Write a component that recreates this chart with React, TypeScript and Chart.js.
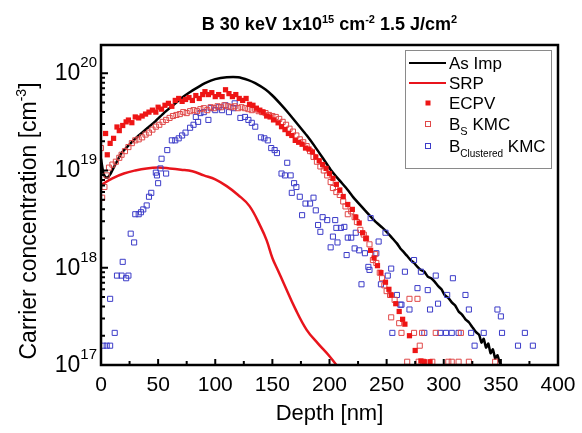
import React, { useEffect, useRef } from "react";
import { Chart, registerables } from "chart.js";

Chart.register(...registerables);

const FONT = '"Liberation Sans", Arial, Helvetica, sans-serif';

// ---------- tick labels ----------
const xTickValues = [0, 50, 100, 150, 200, 250, 300, 350, 400];
const xTickLabels = ["0", "50", "100", "150", "200", "250", "300", "350", "400"];
const yTickValues = [1e17, 1e18, 1e19, 1e20];
const yTickBase = "10";
const yTickExp = ["17", "18", "19", "20"];

// ---------- As implanted (black line) ----------
const asImpDepth = [0, 2, 4, 6, 8, 12, 18, 25, 33, 40, 48, 55, 62, 70, 77, 85, 91, 100, 110, 120, 129, 135, 144, 150, 158, 164, 173, 180, 187, 194, 201, 208, 216, 222, 231, 240, 246, 250, 253, 256, 259, 262, 265, 268, 271, 274, 277, 280, 283, 286, 289, 292, 295, 298, 301, 304, 307, 310, 313, 316, 319, 322, 325, 328, 331, 333, 335, 337, 339, 341, 343, 345, 347, 349, 352];
const asImpConc = [1.32e19, 9.5e18, 8.5e18, 8.5e18, 9.1e18, 1.12e19, 1.51e19, 1.86e19, 2.29e19, 2.69e19, 3.24e19, 3.89e19, 4.57e19, 5.5e19, 6.3e19, 7.2e19, 7.9e19, 8.7e19, 9.1e19, 9.1e19, 8.5e19, 7.9e19, 6.8e19, 5.9e19, 4.7e19, 3.9e19, 2.9e19, 2.3e19, 1.78e19, 1.35e19, 1.02e19, 8.1e18, 6.3e18, 5.1e18, 3.9e18, 3.0e18, 2.6e18, 2.34e18, 2.14e18, 1.95e18, 1.78e18, 1.58e18, 1.45e18, 1.32e18, 1.2e18, 1.12e18, 1.02e18, 9.5e17, 9.1e17, 8.1e17, 7.8e17, 7.2e17, 6.5e17, 6.0e17, 5.2e17, 4.9e17, 4.4e17, 4.1e17, 3.55e17, 3.3e17, 2.95e17, 2.75e17, 2.45e17, 2.19e17, 2.04e17, 1.7e17, 1.86e17, 1.51e17, 1.66e17, 1.32e17, 1.45e17, 1.17e17, 1.26e17, 1.05e17, 9.3e16];

// ---------- SRP (red line) ----------
const srpDepth = [0, 10, 20, 30, 40, 50, 60, 70, 80, 90, 100, 110, 120, 130, 140, 145, 150, 155, 160, 170, 180, 190, 200, 210];
const srpConc = [7.1e18, 8.3e18, 9.3e18, 1.0e19, 1.05e19, 1.07e19, 1.05e19, 1.02e19, 9.8e18, 8.9e18, 8.1e18, 6.9e18, 5.6e18, 4.3e18, 2.6e18, 1.91e18, 1.26e18, 9.3e17, 6.9e17, 3.8e17, 2.3e17, 1.66e17, 1.23e17, 8.7e16];

// ---------- ECPV (filled red squares) ----------
const ecpvDepth = [4, 5.5, 8, 11, 14, 16, 19, 22, 24, 27, 30, 33, 36, 39, 42, 45, 48, 50, 53, 56, 59, 62, 65, 68, 71, 74, 77, 80, 83, 86, 89, 91, 94, 97, 100, 103, 106, 109, 112, 115, 118, 121, 124, 127, 130, 133, 136, 139, 142, 145, 148, 151, 155, 158, 161, 164, 167, 170, 173, 176, 179, 182, 185, 188, 191, 194, 197, 200, 203, 206, 209, 212, 216, 220, 223, 226, 229, 232, 236, 239, 242, 245, 249, 252, 254, 258, 261, 264, 266, 270, 275, 280, 283, 288];
const ecpvConc = [2.4e19, 1.45e19, 1.9e19, 2.14e19, 2.8e19, 2.57e19, 2.9e19, 3.16e19, 3.3e19, 3.1e19, 3.55e19, 3.47e19, 3.63e19, 3.8e19, 3.98e19, 4.17e19, 3.98e19, 4.47e19, 4.27e19, 4.68e19, 4.9e19, 4.57e19, 5.25e19, 5.5e19, 5.13e19, 5.37e19, 5.62e19, 5.25e19, 5.89e19, 5.5e19, 6.03e19, 6.46e19, 6.03e19, 6.31e19, 5.75e19, 6.03e19, 5.75e19, 6.76e19, 6.17e19, 5.75e19, 6.03e19, 5.5e19, 5.25e19, 5.5e19, 4.79e19, 4.68e19, 4.37e19, 4.17e19, 3.98e19, 3.63e19, 3.55e19, 3.31e19, 3.09e19, 2.82e19, 2.63e19, 2.4e19, 2.29e19, 2.04e19, 1.95e19, 1.86e19, 1.7e19, 1.66e19, 1.55e19, 1.38e19, 1.26e19, 1.15e19, 1.05e19, 9.3e18, 8.3e18, 7.2e18, 6.3e18, 5.4e18, 4.47e18, 3.98e18, 3.31e18, 2.88e18, 2.29e18, 2.0e18, 1.51e18, 1.26e18, 1.05e18, 8.9e17, 7.1e17, 6.0e17, 5.25e17, 4.27e17, 3.55e17, 2.95e17, 2.63e17, 2.0e17, 1.41e17, 1.1e17, 1.08e17, 1.08e17];

// ---------- B_S KMC (open red squares) ----------
const bsDepth = [0, 1, 3, 5, 7, 10, 13, 16, 18, 21, 24, 27, 30, 33, 36, 39, 42, 45, 48, 51, 54, 57, 60, 63, 66, 69, 72, 75, 78, 81, 84, 87, 90, 93, 96, 99, 102, 105, 108, 111, 114, 117, 120, 123, 126, 129, 132, 135, 138, 141, 144, 147, 150, 153, 156, 159, 162, 165, 168, 171, 174, 177, 180, 183, 186, 189, 192, 195, 198, 201, 203, 206, 209, 212, 214, 216, 219, 222, 224, 227, 230, 232, 235, 238, 240, 241, 244, 246, 248, 250, 253, 254, 257, 261, 263, 268, 270, 274, 277, 278, 279, 281, 282, 290, 293, 304, 307, 313, 315, 322, 345];
const bsConc = [1.7e19, 5.25e18, 6.76e18, 8.9e18, 1.07e19, 1.15e19, 1.23e19, 1.35e19, 1.45e19, 1.58e19, 1.74e19, 1.91e19, 2.04e19, 2.09e19, 2.19e19, 2.34e19, 2.45e19, 2.63e19, 2.82e19, 2.95e19, 3.16e19, 3.31e19, 3.47e19, 3.63e19, 3.72e19, 3.8e19, 3.98e19, 3.89e19, 4.07e19, 4.17e19, 4.07e19, 4.27e19, 4.37e19, 4.17e19, 4.47e19, 4.37e19, 4.57e19, 4.47e19, 4.68e19, 4.57e19, 4.47e19, 4.57e19, 4.37e19, 4.47e19, 4.37e19, 4.27e19, 4.17e19, 4.27e19, 4.07e19, 3.98e19, 3.89e19, 3.72e19, 3.63e19, 3.55e19, 3.39e19, 3.16e19, 2.95e19, 2.69e19, 2.51e19, 2.29e19, 2.09e19, 1.95e19, 1.78e19, 1.58e19, 1.38e19, 1.23e19, 1.1e19, 1.0e19, 8.9e18, 7.6e18, 6.6e18, 6.0e18, 5.6e18, 4.8e18, 4.27e18, 3.55e18, 3.8e18, 3.31e18, 2.95e18, 2.45e18, 2.19e18, 2.0e18, 1.74e18, 1.2e18, 1.38e18, 1.12e18, 8.9e17, 7.8e17, 6.6e17, 5.75e17, 5.25e17, 3.09e17, 4.68e17, 2.69e17, 2.14e17, 1.08e17, 4.79e17, 2.14e17, 4.79e17, 1.08e17, 1.58e17, 2.14e17, 1.08e17, 1.08e17, 2.14e17, 1.08e17, 1.08e17, 1.08e17, 2.14e17, 1.08e17, 1.08e17];

// ---------- B_Clustered KMC (open blue squares) ----------
const bclDepth = [2, 5, 8, 8, 12, 14, 18, 19, 22, 24, 26, 29, 30, 33, 35, 37, 40, 42, 44, 48, 49, 50, 52, 53, 57, 58, 62, 65, 68, 71, 74, 78, 81, 83, 85, 87, 90, 94, 96, 100, 103, 106, 109, 112, 116, 117, 122, 126, 129, 132, 135, 140, 143, 146, 149, 152, 154, 158, 161, 163, 166, 167, 169, 171, 174, 176, 179, 183, 186, 188, 190, 192, 194, 198, 201, 203, 205, 206, 207, 210, 213, 215, 216, 219, 222, 223, 226, 228, 231, 234, 235, 236, 241, 243, 245, 249, 251, 254, 255, 259, 262, 263, 266, 270, 274, 277, 280, 283, 286, 288, 293, 295, 297, 302, 303, 307, 308, 313, 319, 322, 324, 327, 335, 347, 350, 351, 365, 371, 378];
const bclConc = [1.58e17, 1.58e17, 1.58e17, 4.79e17, 2.14e17, 8.3e17, 8.3e17, 1.15e18, 7.8e17, 8.3e17, 2.24e18, 1.82e18, 3.55e18, 3.55e18, 3.72e18, 3.98e18, 4.37e18, 5.37e18, 5.89e18, 9.5e18, 8.9e18, 7.4e18, 1.05e19, 1.32e19, 9.3e18, 1.62e19, 2.04e19, 2.04e19, 2.14e19, 2.29e19, 2.45e19, 2.75e19, 2.95e19, 3.55e19, 3.16e19, 3.89e19, 3.98e19, 3.31e19, 4.37e19, 4.17e19, 4.47e19, 4.17e19, 4.68e19, 3.98e19, 4.37e19, 4.9e19, 3.47e19, 3.55e19, 3.31e19, 3.09e19, 2.82e19, 2.19e19, 2.14e19, 2.04e19, 1.7e19, 1.62e19, 1.51e19, 9.3e18, 8.9e18, 1.2e19, 8.9e18, 5.89e18, 7.4e18, 6.76e18, 5.37e18, 3.47e18, 4.57e18, 4.57e18, 5.25e18, 3.89e18, 2.75e18, 2.34e18, 3.31e18, 3.09e18, 1.62e18, 2.09e18, 3.09e18, 2.57e18, 1.82e18, 2.57e18, 2.63e18, 1.35e18, 2.04e18, 2.04e18, 1.58e18, 2.29e18, 1.51e18, 6.76e17, 1.41e18, 1.02e18, 9.5e17, 3.24e18, 1.41e18, 1.86e18, 6.76e17, 2.29e18, 8.3e17, 9.8e17, 2.14e17, 5.25e17, 4.17e17, 4.17e17, 9.1e17, 3.72e17, 1.2e18, 6.17e17, 9.1e17, 2.14e17, 5.89e17, 3.72e17, 8.3e17, 4.27e17, 2.14e17, 2.14e17, 5.25e17, 2.14e17, 7.8e17, 2.14e17, 5.25e17, 3.72e17, 2.14e17, 1.58e17, 2.14e17, 3.72e17, 3.16e17, 2.14e17, 1.58e17, 2.14e17, 1.58e17];

const pairs = (xs: number[], ys: number[]) => xs.map((x, i) => ({ x, y: ys[i] }));

const BLACK = "#000000";
const SRP_RED = "#e8141c";
const ECPV_RED = "#ee1515";
const BS_RED = "#e04848";
const BLUE = "#3c3cc8";

type Seg = { t: string; size: number; dy?: number; bold?: boolean };

function fontOf(s: Seg) {
  return `${s.bold ? "bold " : ""}${s.size}px ${FONT}`;
}
function richWidth(ctx: CanvasRenderingContext2D, segs: Seg[]) {
  let w = 0;
  for (const s of segs) {
    ctx.font = fontOf(s);
    w += ctx.measureText(s.t).width;
  }
  return w;
}
function drawRich(ctx: CanvasRenderingContext2D, segs: Seg[], x: number, y: number, align: "left" | "center" | "right") {
  const w = richWidth(ctx, segs);
  let cx = align === "left" ? x : align === "center" ? x - w / 2 : x - w;
  ctx.textAlign = "left";
  ctx.textBaseline = "alphabetic";
  for (const s of segs) {
    ctx.font = fontOf(s);
    ctx.fillText(s.t, cx, y + (s.dy || 0));
    cx += ctx.measureText(s.t).width;
  }
}

const decorPlugin = {
  id: "decor",
  beforeDraw(chart: any) {
    const ctx = chart.ctx as CanvasRenderingContext2D;
    ctx.save();
    ctx.fillStyle = "#ffffff";
    ctx.fillRect(0, 0, chart.width, chart.height);
    ctx.restore();
  },
  afterDraw(chart: any) {
    const ctx = chart.ctx as CanvasRenderingContext2D;
    const { left, right, top, bottom } = chart.chartArea;
    const xs = chart.scales.x;
    const ys = chart.scales.y;
    ctx.save();
    ctx.fillStyle = "#000";
    ctx.strokeStyle = "#000";

    // ticks (inward)
    ctx.lineWidth = 2;
    ctx.beginPath();
    for (let v = 0; v <= 400; v += 25) {
      const px = xs.getPixelForValue(v);
      const len = v % 50 === 0 ? 6 : 4;
      ctx.moveTo(px, bottom);
      ctx.lineTo(px, bottom - len);
    }
    for (let e = 17; e <= 20; e++) {
      for (let m = 1; m <= 9; m++) {
        const val = m * Math.pow(10, e);
        if (val > ys.max) break;
        const py = ys.getPixelForValue(val);
        const len = m === 1 ? 7 : 4;
        ctx.moveTo(left, py);
        ctx.lineTo(left + len, py);
      }
    }
    ctx.stroke();

    // frame
    ctx.lineWidth = 2.5;
    ctx.strokeRect(left, top, right - left, bottom - top);

    // x tick labels
    ctx.font = `21px ${FONT}`;
    ctx.textAlign = "center";
    ctx.textBaseline = "alphabetic";
    xTickValues.forEach((v, i) => {
      ctx.fillText(xTickLabels[i], xs.getPixelForValue(v), bottom + 26);
    });

    // y tick labels
    yTickValues.forEach((v, i) => {
      const py = ys.getPixelForValue(v);
      drawRich(ctx, [
        { t: yTickBase, size: 23, dy: 7 },
        { t: yTickExp[i], size: 15, dy: -6 },
      ], left - 4, py, "right");
    });

    // x title
    drawRich(ctx, [{ t: "Depth [nm]", size: 22 }], (left + right) / 2, 420, "center");

    // y title
    ctx.save();
    ctx.translate(28, 221);
    ctx.rotate(-Math.PI / 2);
    drawRich(ctx, [
      { t: "Carrier concentration [cm", size: 23 },
      { t: "-3", size: 14, dy: -10 },
      { t: "]", size: 23 },
    ], 0, 8, "center");
    ctx.restore();

    // title
    drawRich(ctx, [
      { t: "B 30 keV 1x10", size: 18, bold: true },
      { t: "15", size: 11, bold: true, dy: -7 },
      { t: " cm", size: 18, bold: true },
      { t: "-2", size: 11, bold: true, dy: -7 },
      { t: " 1.5 J/cm", size: 18, bold: true },
      { t: "2", size: 11, bold: true, dy: -7 },
    ], (left + right) / 2, 30, "center");

    // legend
    const lx = 405.5, ly = 50.5, lw = 146, lh = 118;
    ctx.fillStyle = "#fff";
    ctx.fillRect(lx, ly, lw, lh);
    ctx.lineWidth = 1;
    ctx.strokeStyle = "#8a8a8a";
    ctx.strokeRect(lx, ly, lw, lh);
    const rows = [63, 83, 103, 124, 146];
    const tx = 449;
    ctx.lineWidth = 2;
    ctx.strokeStyle = BLACK;
    ctx.beginPath(); ctx.moveTo(409, rows[0]); ctx.lineTo(446, rows[0]); ctx.stroke();
    ctx.strokeStyle = SRP_RED;
    ctx.beginPath(); ctx.moveTo(409, rows[1]); ctx.lineTo(446, rows[1]); ctx.stroke();
    ctx.fillStyle = ECPV_RED;
    ctx.fillRect(425.5, rows[2] - 2.5, 5, 5);
    ctx.lineWidth = 1;
    ctx.strokeStyle = BS_RED;
    ctx.strokeRect(425.5, rows[3] - 2.5, 5, 5);
    ctx.strokeStyle = BLUE;
    ctx.strokeRect(425.5, rows[4] - 2.5, 5, 5);
    ctx.fillStyle = "#000";
    drawRich(ctx, [{ t: "As Imp", size: 17 }], tx, rows[0] + 6, "left");
    drawRich(ctx, [{ t: "SRP", size: 17 }], tx, rows[1] + 6, "left");
    drawRich(ctx, [{ t: "ECPV", size: 17 }], tx, rows[2] + 6, "left");
    drawRich(ctx, [
      { t: "B", size: 17 },
      { t: "S", size: 11, dy: 5 },
      { t: " KMC", size: 17 },
    ], tx, rows[3] + 6, "left");
    drawRich(ctx, [
      { t: "B", size: 17 },
      { t: "Clustered", size: 10, dy: 5 },
      { t: " KMC", size: 17 },
    ], tx, rows[4] + 6, "left");

    ctx.restore();
  },
};

export default function App() {
  const canvasRef = useRef<HTMLCanvasElement | null>(null);

  useEffect(() => {
    if (!canvasRef.current) return;
    const chart = new Chart(canvasRef.current, {
      type: "scatter",
      data: {
        datasets: [
          {
            label: "ECPV",
            data: pairs(ecpvDepth, ecpvConc),
            showLine: false,
            pointStyle: "rect",
            pointRadius: 3.7,
            backgroundColor: ECPV_RED,
            borderColor: ECPV_RED,
            borderWidth: 0,
            order: 1,
          },
          {
            label: "B_S KMC",
            data: pairs(bsDepth, bsConc),
            showLine: false,
            pointStyle: "rect",
            pointRadius: 3.6,
            backgroundColor: "rgba(0,0,0,0)",
            borderColor: BS_RED,
            borderWidth: 1,
            order: 2,
          },
          {
            label: "B_Clustered KMC",
            data: pairs(bclDepth, bclConc),
            showLine: false,
            pointStyle: "rect",
            pointRadius: 3.6,
            backgroundColor: "rgba(0,0,0,0)",
            borderColor: BLUE,
            borderWidth: 1,
            order: 3,
          },
          {
            label: "As Imp",
            data: pairs(asImpDepth, asImpConc),
            showLine: true,
            borderColor: BLACK,
            borderWidth: 2.5,
            pointRadius: 0,
            tension: 0.15,
            order: 4,
          },
          {
            label: "SRP",
            data: pairs(srpDepth, srpConc),
            showLine: true,
            borderColor: SRP_RED,
            borderWidth: 2.5,
            pointRadius: 0,
            tension: 0.4,
            order: 5,
          },
        ],
      },
      options: {
        responsive: false,
        animation: false,
        devicePixelRatio: 1,
        events: [],
        layout: { padding: { top: 45, right: 24, bottom: 0, left: 0 } },
        plugins: {
          legend: { display: false },
          title: { display: false },
          tooltip: { enabled: false },
        },
        scales: {
          x: {
            type: "linear",
            min: 0,
            max: 400,
            grid: { display: false },
            border: { display: false },
            ticks: { display: false },
            afterFit: (s: any) => { s.height = 68; },
          },
          y: {
            type: "logarithmic",
            min: 1e17,
            max: 1.95e20,
            grid: { display: false },
            border: { display: false },
            ticks: { display: false },
            afterFit: (s: any) => { s.width = 101; },
          },
        },
      } as any,
      plugins: [decorPlugin],
    });
    return () => chart.destroy();
  }, []);

  return (
    <div style={{ position: "fixed", left: 0, top: 0, width: 582, height: 433, background: "#fff" }}>
      <canvas ref={canvasRef} width={582} height={433} style={{ display: "block" }} />
    </div>
  );
}
